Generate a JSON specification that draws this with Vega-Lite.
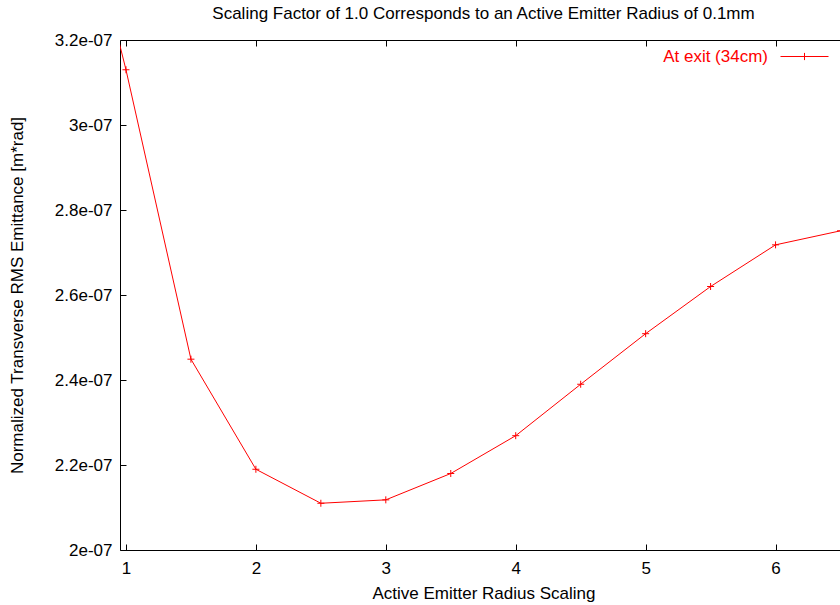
{
  "$schema": "https://vega.github.io/schema/vega-lite/v6.json",
  "width": 727,
  "height": 510,
  "autosize": {"type": "none"},
  "padding": {"left": 120, "top": 40, "right": 0, "bottom": 55},
  "background": "white",
  "config": {
    "view": {"stroke": "black", "strokeWidth": 1},
    "font": "Liberation Sans",
    "axis": {
      "labelFont": "Liberation Sans",
      "titleFont": "Liberation Sans",
      "labelFontSize": 17,
      "titleFontSize": 17,
      "titleFontWeight": "normal",
      "labelColor": "black",
      "titleColor": "black",
      "tickColor": "black",
      "domainColor": "black",
      "grid": false
    }
  },
  "title": {
    "text": "Scaling Factor of 1.0 Corresponds to an Active Emitter Radius of 0.1mm",
    "font": "Liberation Sans",
    "fontSize": 17,
    "fontWeight": "normal",
    "color": "black",
    "offset": 8
  },
  "data": {
    "values": [
      {"scaling": 0.5, "emittance": 3.74e-7, "series": "At exit (34cm)"},
      {"scaling": 1.0, "emittance": 3.13e-7, "series": "At exit (34cm)"},
      {"scaling": 1.5, "emittance": 2.449e-7, "series": "At exit (34cm)"},
      {"scaling": 2.0, "emittance": 2.19e-7, "series": "At exit (34cm)"},
      {"scaling": 2.5, "emittance": 2.11e-7, "series": "At exit (34cm)"},
      {"scaling": 3.0, "emittance": 2.118e-7, "series": "At exit (34cm)"},
      {"scaling": 3.5, "emittance": 2.18e-7, "series": "At exit (34cm)"},
      {"scaling": 4.0, "emittance": 2.269e-7, "series": "At exit (34cm)"},
      {"scaling": 4.5, "emittance": 2.39e-7, "series": "At exit (34cm)"},
      {"scaling": 5.0, "emittance": 2.509e-7, "series": "At exit (34cm)"},
      {"scaling": 5.5, "emittance": 2.62e-7, "series": "At exit (34cm)"},
      {"scaling": 6.0, "emittance": 2.718e-7, "series": "At exit (34cm)"},
      {"scaling": 6.5, "emittance": 2.751e-7, "series": "At exit (34cm)"}
    ]
  },
  "layer": [
    {
      "mark": {"type": "line", "strokeWidth": 1, "clip": true},
      "encoding": {
        "x": {
          "field": "scaling",
          "type": "quantitative",
          "scale": {"domain": [0.954, 6.55], "nice": false, "zero": false},
          "axis": {
            "title": "Active Emitter Radius Scaling",
            "values": [1, 2, 3, 4, 5, 6],
            "tickSize": -6,
            "labelPadding": 16,
            "titlePadding": 9,
            "domain": false
          }
        },
        "y": {
          "field": "emittance",
          "type": "quantitative",
          "scale": {"domain": [2e-7, 3.2e-7], "nice": false, "zero": false},
          "axis": {
            "title": "Normalized Transverse RMS Emittance [m*rad]",
            "values": [2e-7, 2.2e-7, 2.4e-7, 2.6e-7, 2.8e-7, 3e-7, 3.2e-7],
            "labelExpr": "replace(format(datum.value, '.1~e'), 'e-', 'e-0')",
            "tickSize": -6,
            "labelPadding": 14,
            "titlePadding": 28,
            "domain": false
          }
        },
        "color": {
          "field": "series",
          "type": "nominal",
          "scale": {"domain": ["At exit (34cm)"], "range": ["#ff0000"]},
          "legend": {
            "title": null,
            "orient": "none",
            "legendX": 660,
            "legendY": -8,
            "padding": 0,
            "symbolType": "M-1,0H1M0,-0.15V0.15",
            "symbolSize": 2304,
            "symbolStrokeWidth": 1,
            "symbolStrokeColor": "#ff0000",
            "symbolFillColor": "transparent",
            "labelAlign": "right",
            "labelOffset": -61,
            "labelColor": "#ff0000",
            "labelFont": "Liberation Sans",
            "labelFontSize": 17
          }
        }
      }
    },
    {
      "mark": {"type": "point", "shape": "M-1,0H1M0,-1V1", "size": 49, "filled": false, "strokeWidth": 1, "opacity": 1, "clip": true},
      "encoding": {
        "x": {
          "field": "scaling",
          "type": "quantitative",
          "axis": {"orient": "top", "values": [1, 2, 3, 4, 5, 6], "labels": false, "title": null, "tickSize": -6, "domain": false}
        },
        "y": {
          "field": "emittance",
          "type": "quantitative",
          "axis": {"orient": "right", "values": [2e-7, 2.2e-7, 2.4e-7, 2.6e-7, 2.8e-7, 3e-7, 3.2e-7], "labels": false, "title": null, "tickSize": -6, "domain": false}
        },
        "color": {"field": "series", "type": "nominal"}
      }
    }
  ],
  "resolve": {"axis": {"x": "independent", "y": "independent"}}
}
